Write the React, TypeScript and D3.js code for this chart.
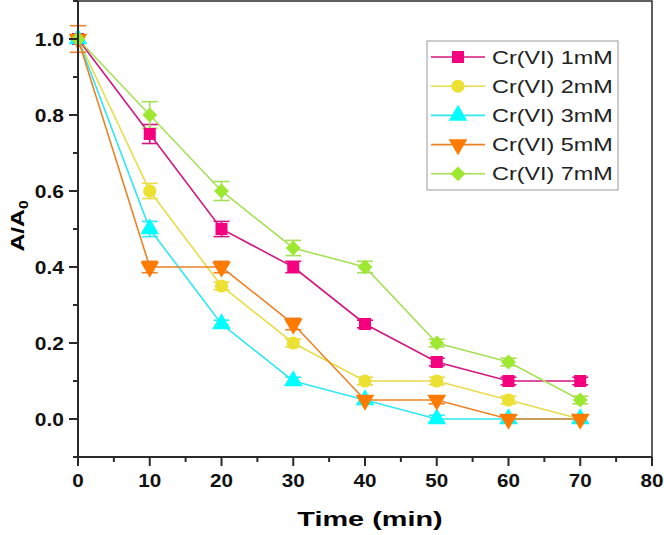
import React from "react";
import * as d3 from "d3";

const times = [0, 10, 20, 30, 40, 50, 60, 70];
const seriesNames = ["Cr(VI) 1mM", "Cr(VI) 2mM", "Cr(VI) 3mM", "Cr(VI) 5mM", "Cr(VI) 7mM"];
const v1mM = [1.0, 0.75, 0.5, 0.4, 0.25, 0.15, 0.1, 0.1];
const v2mM = [1.0, 0.6, 0.35, 0.2, 0.1, 0.1, 0.05, 0.0];
const v3mM = [1.0, 0.5, 0.25, 0.1, 0.05, 0.0, 0.0, 0.0];
const v5mM = [1.0, 0.4, 0.4, 0.25, 0.05, 0.05, 0.0, 0.0];
const v7mM = [1.0, 0.8, 0.6, 0.45, 0.4, 0.2, 0.15, 0.05];
const e1mM = [0.01, 0.025, 0.02, 0.015, 0.01, 0.01, 0.01, 0.01];
const e2mM = [0.01, 0.02, 0.01, 0.01, 0.01, 0.01, 0.01, 0.01];
const e3mM = [0.01, 0.02, 0.01, 0.01, 0.01, 0.01, 0.01, 0.01];
const e5mM = [0.035, 0.015, 0.015, 0.015, 0.01, 0.01, 0.01, 0.01];
const e7mM = [0.01, 0.035, 0.025, 0.02, 0.015, 0.01, 0.01, 0.01];
const xTicks = [0, 10, 20, 30, 40, 50, 60, 70, 80];
const yTicks = [0.0, 0.2, 0.4, 0.6, 0.8, 1.0];

const values = [v1mM, v2mM, v3mM, v5mM, v7mM];
const errors = [e1mM, e2mM, e3mM, e5mM, e7mM];
const lineColors = ["#d4177f", "#e8dc4a", "#30e8f2", "#ec8226", "#a6e056"];
const markColors = ["#f5007f", "#ece032", "#00ffff", "#ff7a00", "#9ee832"];

const W = 664, H = 535;
const L = 78, R = 652, T = 1, B = 457;

const x = d3.scaleLinear().domain([0, 80]).range([L, R]);
const y = d3.scaleLinear().domain([-0.1, 1.1]).range([B, T]);

function markerPath(i: number): { d: string; rot: number } {
  const types = [
    { t: d3.symbolSquare, s: 144, rot: 0 },
    { t: d3.symbolCircle, s: 135, rot: 0 },
    { t: d3.symbolTriangle, s: 150, rot: 0 },
    { t: d3.symbolTriangle, s: 150, rot: 180 },
    { t: d3.symbolSquare, s: 110, rot: 45 },
  ];
  const k = types[i];
  return { d: d3.symbol().type(k.t).size(k.s)() as string, rot: k.rot };
}

const fontFam = "'Liberation Sans', Arial, sans-serif";

export default function App() {
  const line = d3
    .line<number>()
    .x((_, j) => x(times[j]))
    .y((v) => y(v));
  const minorX = d3.range(5, 80, 10);
  const minorY = [-0.1, 0.1, 0.3, 0.5, 0.7, 0.9, 1.1];
  const legX = 427, legY = 41, legW = 191, legH = 149;
  const rowH = 29.2;
  return (
    <svg width={W} height={H} style={{ position: "absolute", left: 0, top: 0, background: "#fff" }}>
      <rect x={0} y={0} width={W} height={H} fill="#fff" />
      <rect x={L} y={T} width={R - L} height={B - T} fill="none" stroke="#2a2a2a" strokeWidth={1.5} />
      {values.map((vals, i) => (
        <path key={"l" + i} d={line(vals) as string} fill="none" stroke={lineColors[i]} strokeWidth={1.6} />
      ))}
      {values.map((vals, i) =>
        vals.map((v, j) => {
          const e = errors[i][j];
          const cx = x(times[j]);
          return (
            <g key={"e" + i + "-" + j} stroke={lineColors[i]} strokeWidth={1.6}>
              <line x1={cx} x2={cx} y1={y(v - e)} y2={y(v + e)} />
              <line x1={cx - 8} x2={cx + 8} y1={y(v - e)} y2={y(v - e)} />
              <line x1={cx - 8} x2={cx + 8} y1={y(v + e)} y2={y(v + e)} />
            </g>
          );
        })
      )}
      {values.map((vals, i) => {
        const m = markerPath(i);
        return vals.map((v, j) => (
          <path
            key={"m" + i + "-" + j}
            d={m.d}
            transform={`translate(${x(times[j])},${y(v)}) rotate(${m.rot})`}
            fill={markColors[i]}
          />
        ));
      })}
      <line x1={L} x2={R} y1={B} y2={B} stroke="#2a2a2a" strokeWidth={2} />
      <line x1={L} x2={L} y1={T} y2={B} stroke="#2a2a2a" strokeWidth={2} />
      {xTicks.map((t) => (
        <g key={"xt" + t}>
          <line x1={x(t)} x2={x(t)} y1={B} y2={B + 9} stroke="#2a2a2a" strokeWidth={2} />
          <text
            transform={`translate(${x(t)},${B + 30}) scale(1.18,1)`}
            textAnchor="middle"
            fontFamily={fontFam}
            fontWeight="bold"
            fontSize={17.5}
            fill="#111"
          >
            {t}
          </text>
        </g>
      ))}
      {minorX.map((t) => (
        <line key={"xm" + t} x1={x(t)} x2={x(t)} y1={B} y2={B + 5} stroke="#2a2a2a" strokeWidth={2} />
      ))}
      {yTicks.map((t) => (
        <g key={"yt" + t}>
          <line x1={L - 9} x2={L} y1={y(t)} y2={y(t)} stroke="#2a2a2a" strokeWidth={2} />
          <text
            transform={`translate(${L - 14},${y(t) + 6.5}) scale(1.2,1)`}
            textAnchor="end"
            fontFamily={fontFam}
            fontWeight="bold"
            fontSize={17.5}
            fill="#111"
          >
            {t.toFixed(1)}
          </text>
        </g>
      ))}
      {minorY.map((t) => (
        <line key={"ym" + t} x1={L - 5} x2={L} y1={y(t)} y2={y(t)} stroke="#2a2a2a" strokeWidth={2} />
      ))}
      <text
        transform={`translate(${(L + R) / 2 + 5},${526}) scale(1.48,1)`}
        textAnchor="middle"
        fontFamily={fontFam}
        fontWeight="bold"
        fontSize={19.5}
        fill="#000"
      >
        Time (min)
      </text>
      <text
        transform={`translate(${24},${226}) rotate(-90) scale(1.3,1)`}
        textAnchor="middle"
        fontFamily={fontFam}
        fontWeight="bold"
        fontSize={19}
        fill="#000"
      >
        A/A<tspan fontSize={12} dy={4}>0</tspan>
      </text>
      <rect x={legX} y={legY} width={legW} height={legH} fill="#fff" stroke="#999" strokeWidth={1} />
      {seriesNames.map((name, i) => {
        const cy = legY + 16 + i * rowH;
        const m = markerPath(i);
        return (
          <g key={"lg" + i}>
            <line x1={legX + 4} x2={legX + 58} y1={cy} y2={cy} stroke={lineColors[i]} strokeWidth={1.6} />
            <path d={m.d} transform={`translate(${legX + 31},${cy}) rotate(${m.rot})`} fill={markColors[i]} />
            <text
              transform={`translate(${legX + 65},${cy + 6.5}) scale(1.3,1)`}
              fontFamily={fontFam}
              fontSize={18}
              fill="#222"
            >
              {name}
            </text>
          </g>
        );
      })}
    </svg>
  );
}
